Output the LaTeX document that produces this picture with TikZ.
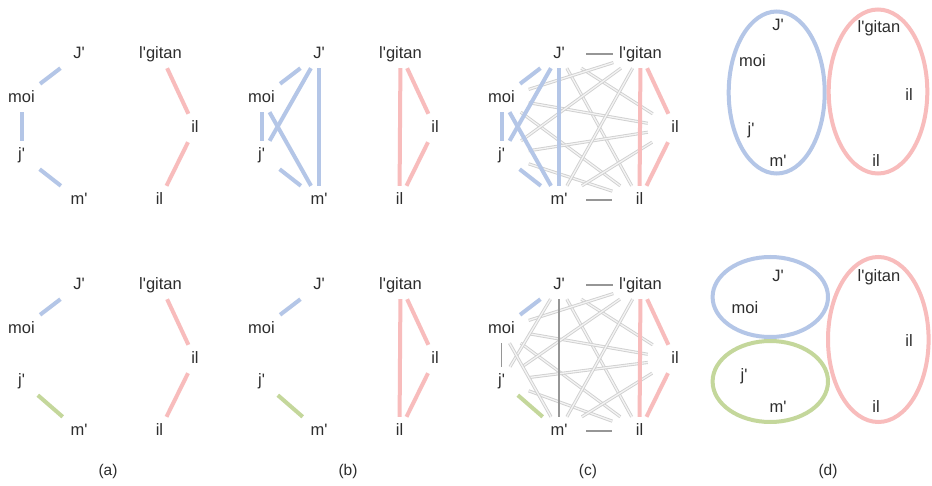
\documentclass[tikz,border=0pt]{standalone}
\usepackage{fontspec}
\newfontfamily\arialf{Liberation Sans}
\definecolor{txt}{RGB}{45,45,45}
\definecolor{cblue}{RGB}{180,198,231}
\definecolor{cred}{RGB}{248,188,188}
\definecolor{cgreen}{RGB}{196,215,155}
\definecolor{glight}{RGB}{208,208,208}
\definecolor{glighter}{RGB}{244,244,244}
\definecolor{gdark}{RGB}{150,150,150}
\tikzset{
  lab/.style={rectangle, minimum width=54, minimum height=28, inner sep=0,
    text height=12, text depth=3.5, text=txt,
    font=\arialf\fontsize{16.5}{18}\selectfont},
  captext/.style={text=txt, inner sep=0, font=\arialf\fontsize{15.5}{18}\selectfont},
  bl/.style={draw=cblue, line width=4},
  rd/.style={draw=cred, line width=4},
  gr/.style={draw=cgreen, line width=4},
  gline/.style={draw=glight, line width=0.9, double=glighter, double distance=1.3},
  gthin/.style={draw=gdark, line width=1.1},
  ell/.style={line width=4},
}
% #1 prefix, #2 x offset, #3..#9 y of J', l'gitan, moi, il, j', m', il
\newcommand\mknodes[9]{%
  \node[lab] (#1J) at (#2+79,#3) {J'};
  \node[lab] (#1G) at (#2+160.5,#4) {l'gitan};
  \node[lab] (#1M) at (#2+21.5,#5) {moi};
  \node[lab] (#1I) at (#2+195,#6) {il};
  \node[lab] (#1j) at (#2+21.5,#7) {j'};
  \node[lab] (#1m) at (#2+79,#8) {m'};
  \node[lab] (#1L) at (#2+159.5,#9) {il};
}
\newcommand\toprow[2]{\mknodes{#1}{#2}{54}{54}{98}{128}{155}{200}{200}}
\newcommand\botrow[2]{\mknodes{#1}{#2}{285}{285}{329}{359}{381}{431}{431}}
\begin{document}
\begin{tikzpicture}[x=1pt,y=-1pt]
\fill[white] (0,0) rectangle (932,486);
\path[use as bounding box] (0,0) rectangle (932,486);

% ---------- nodes ----------
\toprow{A}{0}
\botrow{E}{0}
\toprow{B}{240}
\botrow{F}{240}
\toprow{C}{480}
\botrow{H}{480}

% ---------- panel (a) ----------
\draw[bl] (AM) -- (AJ);
\draw[bl] (AM) -- (Aj);
\draw[bl] (Aj) -- (Am);
\draw[rd] (AG) -- (AI);
\draw[rd] (AI) -- (AL);

\draw[bl] (EM) -- (EJ);
\draw[gr] (Ej) -- (Em);
\draw[rd] (EG) -- (EI);
\draw[rd] (EI) -- (EL);

% ---------- panel (b) ----------
\foreach \a/\b in {M/J,M/j,j/m,J/m,J/j,M/m}
  \draw[bl] (B\a) -- (B\b);
\foreach \a/\b in {G/I,I/L,G/L}
  \draw[rd] (B\a) -- (B\b);

\draw[bl] (FM) -- (FJ);
\draw[gr] (Fj) -- (Fm);
\foreach \a/\b in {G/I,I/L,G/L}
  \draw[rd] (F\a) -- (F\b);

% ---------- panel (c) ----------
\foreach \a/\b in {J/I,J/L,M/G,M/I,M/L,j/G,j/I,j/L,m/G,m/I}
  \draw[gline] (C\a) -- (C\b);
\draw[gthin] (CJ) -- (CG);
\draw[gthin] (Cm) -- (CL);
\foreach \a/\b in {M/J,M/j,j/m,J/m,J/j,M/m}
  \draw[bl] (C\a) -- (C\b);
\foreach \a/\b in {G/I,I/L,G/L}
  \draw[rd] (C\a) -- (C\b);

\foreach \a/\b in {J/I,J/L,M/G,M/I,M/L,j/G,j/I,j/L,m/G,m/I,J/j,M/m}
  \draw[gline] (H\a) -- (H\b);
\draw[gthin] (HJ) -- (HG);
\draw[gthin] (Hm) -- (HL);
\draw[gthin] (HM) -- (Hj);
\draw[gthin] (HJ) -- (Hm);
\draw[bl] (HM) -- (HJ);
\draw[gr] (Hj) -- (Hm);
\foreach \a/\b in {G/I,I/L,G/L}
  \draw[rd] (H\a) -- (H\b);

% ---------- panel (d) ----------
\draw[ell, cblue] (776.7,92.5) ellipse [x radius=48, y radius=81];
\draw[ell, cred] (878,91.5) ellipse [x radius=49.3, y radius=82];
\node[lab] (DJ) at (778,26) {J'};
\node[lab] (DG) at (879,28) {l'gitan};
\node[lab] (DM) at (752.5,62) {moi};
\node[lab] (DI) at (909,96) {il};
\node[lab] (Dj) at (751,130) {j'};
\node[lab] (Dm) at (778,162) {m'};
\node[lab] (DL) at (876,162) {il};

\draw[ell, cblue] (770.3,297) ellipse [x radius=57.7, y radius=40];
\draw[ell, cgreen] (770.3,381.5) ellipse [x radius=57.7, y radius=40.5];
\draw[ell, cred] (878.3,339.5) ellipse [x radius=50.3, y radius=82.5];
\node[lab] (KJ) at (778,277) {J'};
\node[lab] (KG) at (879,277) {l'gitan};
\node[lab] (KM) at (745,309) {moi};
\node[lab] (KI) at (909,342.5) {il};
\node[lab] (Kj) at (744,376.5) {j'};
\node[lab] (Km) at (778,408.5) {m'};
\node[lab] (KL) at (876,408.5) {il};

% ---------- captions ----------
\node[captext] (capa) at (108,471.5) {(a)};
\node[captext] (capb) at (348,471.5) {(b)};
\node[captext] (capc) at (588,471.5) {(c)};
\node[captext] (capd) at (828,471.5) {(d)};
\end{tikzpicture}
\end{document}
